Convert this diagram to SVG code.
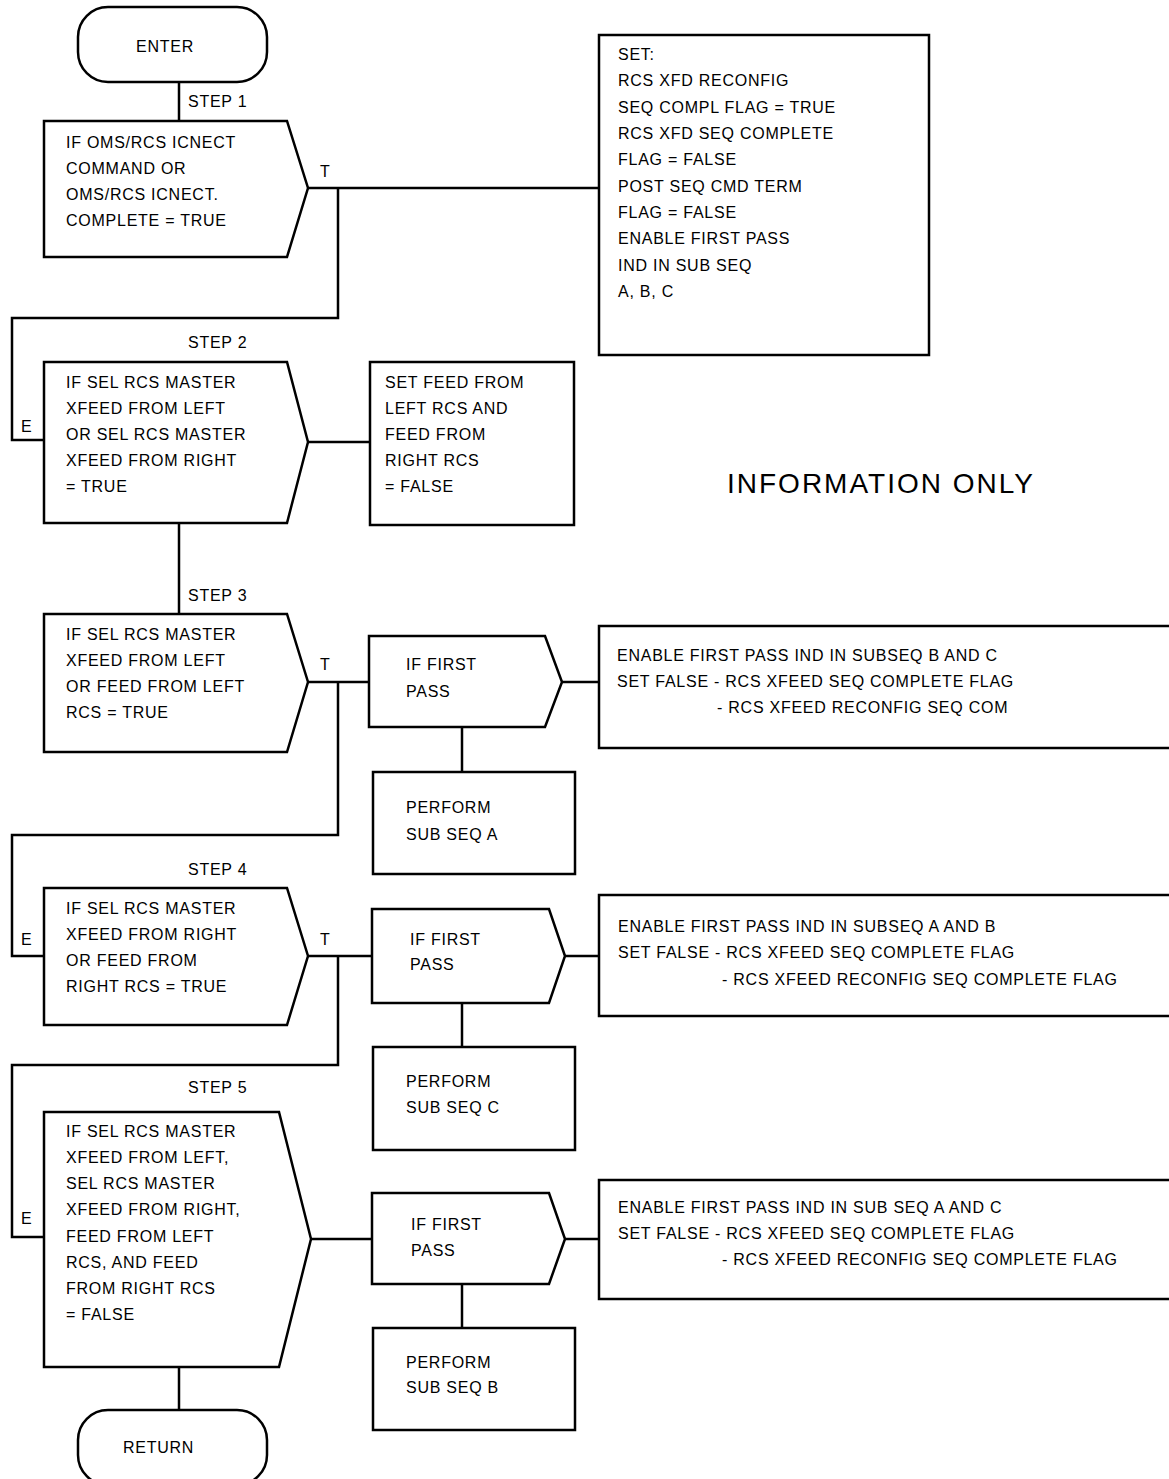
<svg xmlns="http://www.w3.org/2000/svg" width="1169" height="1479" viewBox="0 0 1169 1479">
<style>
.s{fill:#fff;stroke:#000;stroke-width:2.5;stroke-linejoin:miter}
.c{fill:none;stroke:#000;stroke-width:2.5}
text{font-family:"Liberation Sans",Arial,sans-serif;font-size:16px;letter-spacing:0.75px;fill:#000}
.big{font-size:28px;letter-spacing:2px}
</style>
<rect width="1169" height="1479" fill="#fff"/>
<g id="connectors">
<path class="c" d="M179,82V121"/>
<path class="c" d="M308,188H599M338,188V318H12V440H44"/>
<path class="c" d="M308,442H370"/>
<path class="c" d="M179,523V614"/>
<path class="c" d="M308,682H369M338,682V835H12V956H44"/>
<path class="c" d="M562,682H599"/>
<path class="c" d="M462,727V772"/>
<path class="c" d="M308,956H372M338,956V1065H12V1237H44"/>
<path class="c" d="M565,956H599"/>
<path class="c" d="M462,1003V1047"/>
<path class="c" d="M311,1239H372"/>
<path class="c" d="M565,1239H599"/>
<path class="c" d="M462,1284V1328"/>
<path class="c" d="M179,1367V1410"/>
</g>
<g id="labels">
<text x="188" y="107">STEP 1</text>
<text x="320" y="177">T</text>
<text x="188" y="348">STEP 2</text>
<text x="21" y="432">E</text>
<text x="188" y="601">STEP 3</text>
<text x="320" y="670">T</text>
<text x="188" y="875">STEP 4</text>
<text x="21" y="945">E</text>
<text x="320" y="945">T</text>
<text x="188" y="1093">STEP 5</text>
<text x="21" y="1224">E</text>
<text class="big" x="727" y="493">INFORMATION ONLY</text>
</g>
<g id="enter">
<rect class="s" x="78" y="7" width="189" height="75" rx="30"/>
<text x="136" y="52">ENTER</text>
</g>
<g id="step1">
<path class="s" d="M44,121H287L308,188L287,257H44Z"/>
<text x="66" y="148">IF OMS/RCS ICNECT</text>
<text x="66" y="174">COMMAND OR</text>
<text x="66" y="200">OMS/RCS ICNECT.</text>
<text x="66" y="226">COMPLETE = TRUE</text>
</g>
<g id="set1">
<rect class="s" x="599" y="35" width="330" height="320"/>
<text x="618" y="60">SET:</text>
<text x="618" y="86">RCS XFD RECONFIG</text>
<text x="618" y="113">SEQ COMPL FLAG = TRUE</text>
<text x="618" y="139">RCS XFD SEQ COMPLETE</text>
<text x="618" y="165">FLAG = FALSE</text>
<text x="618" y="192">POST SEQ CMD TERM</text>
<text x="618" y="218">FLAG = FALSE</text>
<text x="618" y="244">ENABLE FIRST PASS</text>
<text x="618" y="271">IND IN SUB SEQ</text>
<text x="618" y="297">A, B, C</text>
</g>
<g id="step2">
<path class="s" d="M44,362H287L308,442L287,523H44Z"/>
<text x="66" y="388">IF SEL RCS MASTER</text>
<text x="66" y="414">XFEED FROM LEFT</text>
<text x="66" y="440">OR SEL RCS MASTER</text>
<text x="66" y="466">XFEED FROM RIGHT</text>
<text x="66" y="492">= TRUE</text>
</g>
<g id="set2">
<rect class="s" x="370" y="362" width="204" height="163"/>
<text x="385" y="388">SET FEED FROM</text>
<text x="385" y="414">LEFT RCS AND</text>
<text x="385" y="440">FEED FROM</text>
<text x="385" y="466">RIGHT RCS</text>
<text x="385" y="492">= FALSE</text>
</g>
<g id="step3">
<path class="s" d="M44,614H287L308,682L287,752H44Z"/>
<text x="66" y="640">IF SEL RCS MASTER</text>
<text x="66" y="666">XFEED FROM LEFT</text>
<text x="66" y="692">OR FEED FROM LEFT</text>
<text x="66" y="718">RCS = TRUE</text>
</g>
<g id="fp3">
<path class="s" d="M369,636H545L562,682L545,727H369Z"/>
<text x="406" y="670">IF FIRST</text>
<text x="406" y="697">PASS</text>
</g>
<g id="set3">
<rect class="s" x="599" y="626" width="590" height="122"/>
<text x="617" y="661">ENABLE FIRST PASS IND IN SUBSEQ B AND C</text>
<text x="617" y="687">SET FALSE - RCS XFEED SEQ COMPLETE FLAG</text>
<text x="717" y="713">- RCS XFEED RECONFIG SEQ COM</text>
</g>
<g id="performA">
<rect class="s" x="373" y="772" width="202" height="102"/>
<text x="406" y="813">PERFORM</text>
<text x="406" y="840">SUB SEQ A</text>
</g>
<g id="step4">
<path class="s" d="M44,888H287L308,956L287,1025H44Z"/>
<text x="66" y="914">IF SEL RCS MASTER</text>
<text x="66" y="940">XFEED FROM RIGHT</text>
<text x="66" y="966">OR FEED FROM</text>
<text x="66" y="992">RIGHT RCS = TRUE</text>
</g>
<g id="fp4">
<path class="s" d="M372,909H549L565,956L549,1003H372Z"/>
<text x="410" y="945">IF FIRST</text>
<text x="410" y="970">PASS</text>
</g>
<g id="set4">
<rect class="s" x="599" y="895" width="590" height="121"/>
<text x="618" y="932">ENABLE FIRST PASS IND IN SUBSEQ A AND B</text>
<text x="618" y="958">SET FALSE - RCS XFEED SEQ COMPLETE FLAG</text>
<text x="722" y="985">- RCS XFEED RECONFIG SEQ COMPLETE FLAG</text>
</g>
<g id="performC">
<rect class="s" x="373" y="1047" width="202" height="103"/>
<text x="406" y="1087">PERFORM</text>
<text x="406" y="1113">SUB SEQ C</text>
</g>
<g id="step5">
<path class="s" d="M44,1112H279L311,1239L279,1367H44Z"/>
<text x="66" y="1137">IF SEL RCS MASTER</text>
<text x="66" y="1163">XFEED FROM LEFT,</text>
<text x="66" y="1189">SEL RCS MASTER</text>
<text x="66" y="1215">XFEED FROM RIGHT,</text>
<text x="66" y="1242">FEED FROM LEFT</text>
<text x="66" y="1268">RCS, AND FEED</text>
<text x="66" y="1294">FROM RIGHT RCS</text>
<text x="66" y="1320">= FALSE</text>
</g>
<g id="fp5">
<path class="s" d="M372,1193H549L565,1239L549,1284H372Z"/>
<text x="411" y="1230">IF FIRST</text>
<text x="411" y="1256">PASS</text>
</g>
<g id="set5">
<rect class="s" x="599" y="1180" width="590" height="119"/>
<text x="618" y="1213">ENABLE FIRST PASS IND IN SUB SEQ A AND C</text>
<text x="618" y="1239">SET FALSE - RCS XFEED SEQ COMPLETE FLAG</text>
<text x="722" y="1265">- RCS XFEED RECONFIG SEQ COMPLETE FLAG</text>
</g>
<g id="performB">
<rect class="s" x="373" y="1328" width="202" height="102"/>
<text x="406" y="1368">PERFORM</text>
<text x="406" y="1393">SUB SEQ B</text>
</g>
<g id="return">
<rect class="s" x="78" y="1410" width="189" height="75" rx="30"/>
<text x="123" y="1453">RETURN</text>
</g>
</svg>
